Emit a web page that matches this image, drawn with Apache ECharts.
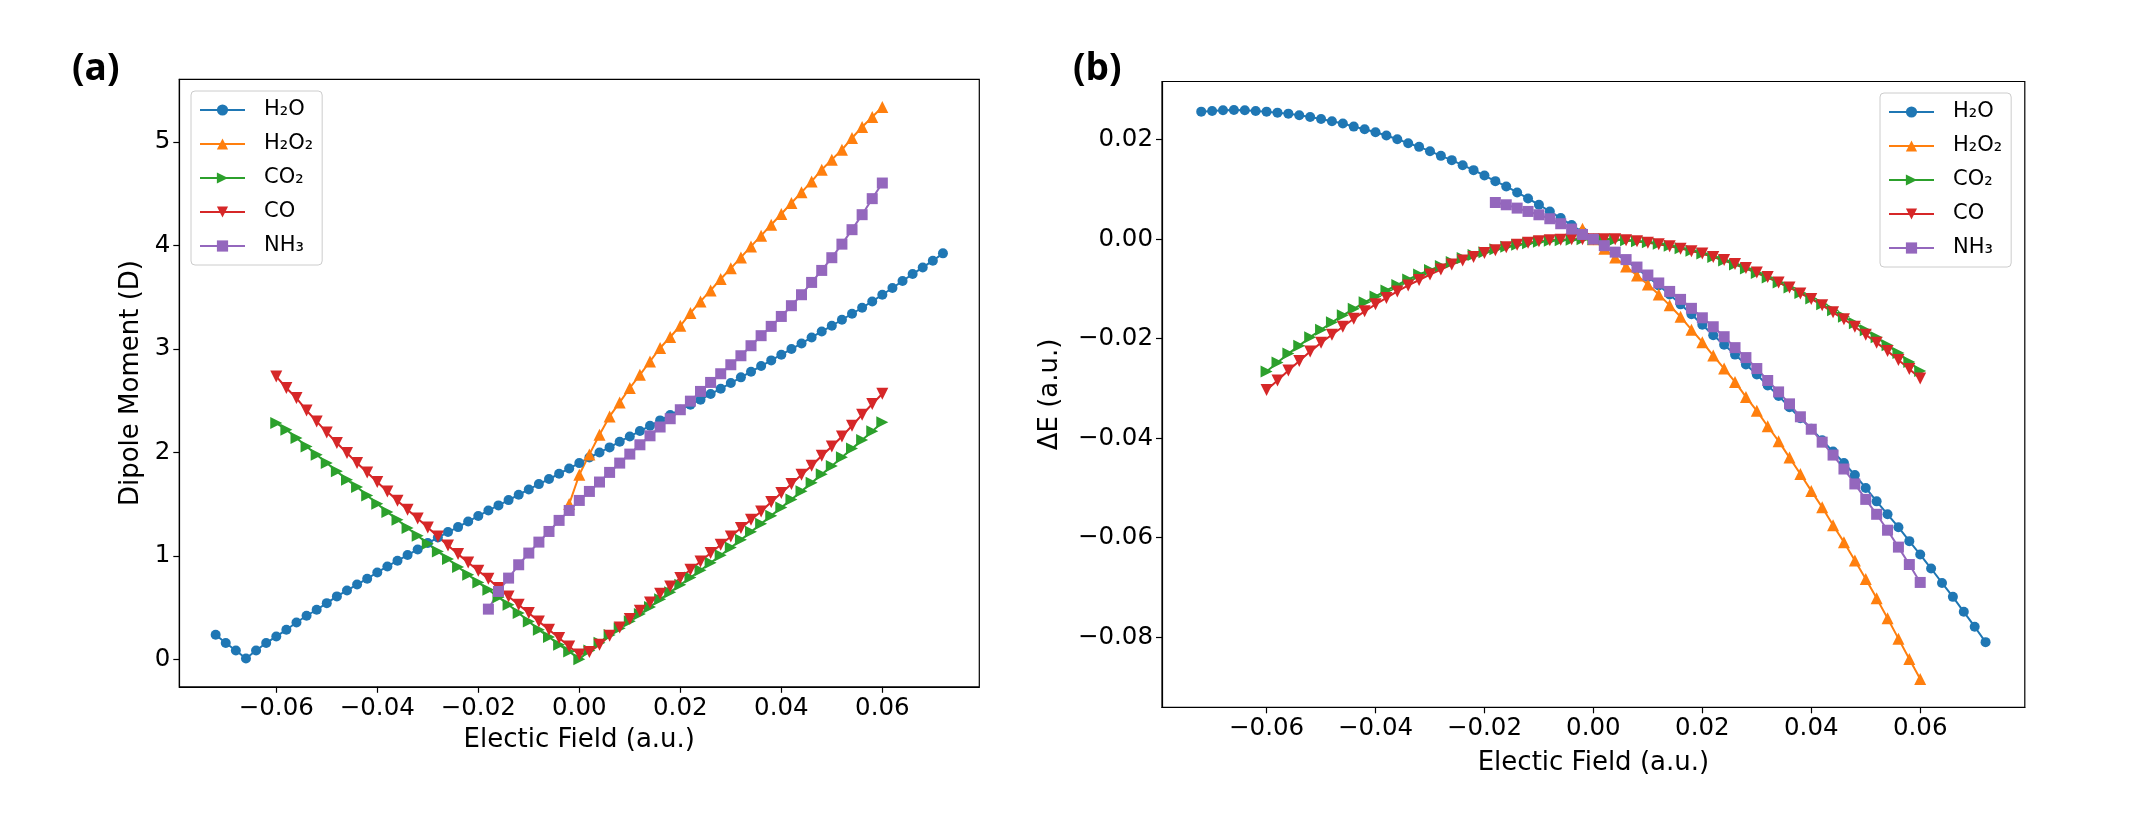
<!doctype html>
<html lang="en">
<head>
<meta charset="UTF-8">
<title>Dipole moment and energy vs electric field</title>
<script src="https://cdn.jsdelivr.net/npm/echarts@6/dist/echarts.min.js"></script>
<style>
    html, body { margin: 0; padding: 0; background: #fff; }
    #main { width: 2132px; height: 818px; }
</style>
</head>
<body>
<div id="main"></div>
<script>
// electric field grids (a.u.)
var fieldH2O = [-0.072,-0.070,-0.068,-0.066,-0.064,-0.062,-0.060,-0.058,-0.056,-0.054,-0.052,-0.050,-0.048,-0.046,-0.044,-0.042,-0.040,-0.038,-0.036,-0.034,-0.032,-0.030,-0.028,-0.026,-0.024,-0.022,-0.020,-0.018,-0.016,-0.014,-0.012,-0.010,-0.008,-0.006,-0.004,-0.002,0.000,0.002,0.004,0.006,0.008,0.010,0.012,0.014,0.016,0.018,0.020,0.022,0.024,0.026,0.028,0.030,0.032,0.034,0.036,0.038,0.040,0.042,0.044,0.046,0.048,0.050,0.052,0.054,0.056,0.058,0.060,0.062,0.064,0.066,0.068,0.070,0.072];
var fieldCO = [-0.060,-0.058,-0.056,-0.054,-0.052,-0.050,-0.048,-0.046,-0.044,-0.042,-0.040,-0.038,-0.036,-0.034,-0.032,-0.030,-0.028,-0.026,-0.024,-0.022,-0.020,-0.018,-0.016,-0.014,-0.012,-0.010,-0.008,-0.006,-0.004,-0.002,0.000,0.002,0.004,0.006,0.008,0.010,0.012,0.014,0.016,0.018,0.020,0.022,0.024,0.026,0.028,0.030,0.032,0.034,0.036,0.038,0.040,0.042,0.044,0.046,0.048,0.050,0.052,0.054,0.056,0.058,0.060];
var fieldNH3 = [-0.018,-0.016,-0.014,-0.012,-0.010,-0.008,-0.006,-0.004,-0.002,0.000,0.002,0.004,0.006,0.008,0.010,0.012,0.014,0.016,0.018,0.020,0.022,0.024,0.026,0.028,0.030,0.032,0.034,0.036,0.038,0.040,0.042,0.044,0.046,0.048,0.050,0.052,0.054,0.056,0.058,0.060];
var fieldH2O2 = [-0.002,0.000,0.002,0.004,0.006,0.008,0.010,0.012,0.014,0.016,0.018,0.020,0.022,0.024,0.026,0.028,0.030,0.032,0.034,0.036,0.038,0.040,0.042,0.044,0.046,0.048,0.050,0.052,0.054,0.056,0.058,0.060];

// (a) dipole moment (D)
var dipoleH2O = [0.236,0.156,0.084,0.007,0.084,0.156,0.220,0.284,0.355,0.420,0.478,0.542,0.607,0.665,0.722,0.778,0.839,0.897,0.952,1.007,1.061,1.123,1.176,1.229,1.277,1.332,1.384,1.438,1.487,1.538,1.590,1.641,1.693,1.742,1.793,1.844,1.896,1.950,1.999,2.048,2.103,2.154,2.206,2.257,2.309,2.361,2.412,2.460,2.509,2.564,2.615,2.670,2.725,2.780,2.834,2.889,2.944,2.999,3.053,3.111,3.169,3.224,3.282,3.340,3.398,3.459,3.524,3.589,3.657,3.724,3.788,3.853,3.924];
var dipoleH2O2 = [1.500,1.783,1.980,2.170,2.347,2.483,2.622,2.750,2.879,3.009,3.115,3.224,3.347,3.459,3.566,3.676,3.779,3.885,3.991,4.095,4.201,4.305,4.411,4.514,4.620,4.733,4.830,4.926,5.039,5.146,5.243,5.339];
var dipoleCO2 = [2.283,2.219,2.138,2.057,1.977,1.896,1.816,1.735,1.664,1.583,1.503,1.422,1.348,1.268,1.193,1.116,1.042,0.968,0.892,0.816,0.742,0.671,0.600,0.526,0.446,0.365,0.284,0.214,0.139,0.075,0.000,0.085,0.160,0.235,0.300,0.368,0.436,0.505,0.580,0.648,0.720,0.790,0.860,0.932,1.005,1.080,1.155,1.232,1.310,1.388,1.466,1.545,1.625,1.705,1.787,1.869,1.952,2.036,2.120,2.205,2.290];
var dipoleCO = [2.734,2.622,2.525,2.405,2.299,2.193,2.090,1.993,1.896,1.806,1.713,1.622,1.532,1.445,1.361,1.274,1.187,1.100,1.016,0.935,0.855,0.778,0.688,0.607,0.526,0.446,0.365,0.284,0.204,0.123,0.045,0.070,0.139,0.226,0.307,0.388,0.468,0.548,0.632,0.703,0.784,0.865,0.945,1.026,1.106,1.187,1.268,1.348,1.429,1.519,1.606,1.693,1.783,1.870,1.967,2.057,2.154,2.257,2.364,2.467,2.567];
var dipoleNH3 = [0.484,0.655,0.784,0.913,1.026,1.132,1.235,1.342,1.438,1.535,1.622,1.713,1.806,1.896,1.983,2.073,2.160,2.245,2.325,2.412,2.495,2.589,2.676,2.760,2.847,2.934,3.031,3.128,3.218,3.314,3.418,3.524,3.643,3.759,3.882,4.013,4.153,4.298,4.453,4.604];

// (b) energy change (a.u.)
var energyH2O = [0.02564,0.02578,0.02591,0.02598,0.02591,0.02578,0.02564,0.02544,0.02524,0.02491,0.02457,0.02417,0.02371,0.02324,0.02263,0.02210,0.02150,0.02083,0.02010,0.01930,0.01856,0.01769,0.01675,0.01589,0.01488,0.01388,0.01280,0.01167,0.01060,0.00939,0.00819,0.00692,0.00558,0.00425,0.00285,0.00144,0.0,-0.0013,-0.0028,-0.0043,-0.0059,-0.0076,-0.0093,-0.0111,-0.0131,-0.0151,-0.0172,-0.0193,-0.0212,-0.0232,-0.0252,-0.0272,-0.0294,-0.0315,-0.0338,-0.0360,-0.0381,-0.0404,-0.0427,-0.0450,-0.0474,-0.0500,-0.0527,-0.0553,-0.0579,-0.0607,-0.0634,-0.0662,-0.0691,-0.0719,-0.0749,-0.0779,-0.0810];
var energyH2O2 = [0.0021,0.0000,-0.0019,-0.0037,-0.0055,-0.0073,-0.0091,-0.0111,-0.0133,-0.0156,-0.0182,-0.0207,-0.0234,-0.0260,-0.0287,-0.0317,-0.0345,-0.0376,-0.0406,-0.0439,-0.0472,-0.0506,-0.0539,-0.0575,-0.0609,-0.0646,-0.0683,-0.0722,-0.0762,-0.0803,-0.0844,-0.0884];
var energyCO2 = [-0.0266,-0.0248,-0.0230,-0.0214,-0.0197,-0.0182,-0.0167,-0.0153,-0.0140,-0.0127,-0.0115,-0.0103,-0.0092,-0.0081,-0.0071,-0.0062,-0.0054,-0.0046,-0.0038,-0.0032,-0.0026,-0.0020,-0.0015,-0.0011,-0.0008,-0.0005,-0.0003,-0.0002,-0.0001,0.0000,0.0000,0.0000,-0.0001,-0.0002,-0.0004,-0.0006,-0.0009,-0.0013,-0.0018,-0.0023,-0.0029,-0.0036,-0.0043,-0.0051,-0.0059,-0.0068,-0.0077,-0.0087,-0.0097,-0.0108,-0.0119,-0.0131,-0.0143,-0.0156,-0.0169,-0.0183,-0.0197,-0.0213,-0.0229,-0.0247,-0.0265];
var energyCO = [-0.0303,-0.0284,-0.0264,-0.0245,-0.0226,-0.0208,-0.0192,-0.0176,-0.0160,-0.0145,-0.0131,-0.0118,-0.0105,-0.0093,-0.0082,-0.0071,-0.0061,-0.0051,-0.0043,-0.0036,-0.0028,-0.0022,-0.0016,-0.0011,-0.0007,-0.0004,-0.0002,-0.0001,0.0000,0.0000,0.0000,0.0000,0.0000,-0.0002,-0.0004,-0.0007,-0.0010,-0.0014,-0.0019,-0.0024,-0.0029,-0.0036,-0.0042,-0.0050,-0.0058,-0.0067,-0.0076,-0.0087,-0.0097,-0.0109,-0.0120,-0.0133,-0.0147,-0.0161,-0.0176,-0.0192,-0.0208,-0.0225,-0.0243,-0.0261,-0.0280];
var energyNH3 = [0.00738,0.00692,0.00625,0.00558,0.00491,0.00411,0.00311,0.00204,0.00095,0.0,-0.0013,-0.0026,-0.0041,-0.0056,-0.0072,-0.0088,-0.0105,-0.0121,-0.0139,-0.0158,-0.0176,-0.0196,-0.0218,-0.0238,-0.0260,-0.0284,-0.0307,-0.0331,-0.0357,-0.0382,-0.0408,-0.0434,-0.0462,-0.0492,-0.0523,-0.0553,-0.0585,-0.0619,-0.0654,-0.0690];

// tick labels
var fieldTicks = [-0.06,-0.04,-0.02,0.00,0.02,0.04,0.06];
var dipoleTicks = [0,1,2,3,4,5];
var energyTicks = [-0.08,-0.06,-0.04,-0.02,0.00,0.02];

var names = ['H\u2082O', 'H\u2082O\u2082', 'CO\u2082', 'CO', 'NH\u2083'];
var colors = ['#1f77b4', '#ff7f0e', '#2ca02c', '#d62728', '#9467bd'];

var FONT = 'DejaVu Sans';

function pairs(xs, ys) {
    return xs.map(function (x, i) { return [x, ys[i]]; });
}

function signed(digits) {
    return function (v) {
        var s = Math.abs(v).toFixed(digits);
        return v < -1e-9 ? '\u2212' + s : s;
    };
}

function makeLine(k, symbol, size, rotate, xs, ys, idx) {
    return {
        type: 'line',
        name: names[k],
        xAxisIndex: idx,
        yAxisIndex: idx,
        data: pairs(xs, ys),
        symbol: symbol,
        symbolSize: size,
        symbolRotate: rotate,
        showSymbol: true,
        showAllSymbol: true,
        lineStyle: { color: colors[k], width: 2 },
        itemStyle: { color: colors[k] },
        emphasis: { disabled: true },
        animation: false
    };
}

function xAxisOf(idx, gap) {
    return {
        gridIndex: idx,
        type: 'value',
        min: -0.0792,
        max: 0.0792,
        name: 'Electic Field (a.u.)',
        nameLocation: 'middle',
        nameGap: gap,
        nameTextStyle: { fontFamily: FONT, fontSize: 26, color: '#000' },
        axisLine: { show: true, onZero: false, lineStyle: { color: '#000', width: 1.2 } },
        axisTick: { show: true, length: 6, customValues: fieldTicks, lineStyle: { color: '#000', width: 1.2 } },
        axisLabel: { customValues: fieldTicks, formatter: signed(2), fontFamily: FONT, fontSize: 24.5, color: '#000', margin: 9 },
        splitLine: { show: false }
    };
}

function yAxisOf(idx, min, max, ticks, digits, name, gap) {
    return {
        gridIndex: idx,
        type: 'value',
        min: min,
        max: max,
        name: name,
        nameLocation: 'middle',
        nameGap: gap,
        nameTextStyle: { fontFamily: FONT, fontSize: 26, color: '#000' },
        axisLine: { show: true, onZero: false, lineStyle: { color: '#000', width: 1.2 } },
        axisTick: { show: true, length: 6, customValues: ticks, lineStyle: { color: '#000', width: 1.2 } },
        axisLabel: { customValues: ticks, formatter: signed(digits), fontFamily: FONT, fontSize: 24.5, color: '#000', margin: 9 },
        splitLine: { show: false }
    };
}

function legendAt(left, top) {
    return {
        left: left,
        top: top,
        orient: 'vertical',
        data: names,
        itemWidth: 45,
        itemHeight: 14,
        itemGap: 12,
        padding: [8, 9, 8, 8],
        backgroundColor: 'rgba(255,255,255,0.8)',
        borderColor: '#cccccc',
        borderWidth: 1,
        borderRadius: 4,
        selectedMode: false,
        textStyle: { fontFamily: FONT, fontSize: 21, color: '#000', lineHeight: 22, padding: [0, 0, 0, 14] }
    };
}

var chart = echarts.init(document.getElementById('main'), null, { renderer: 'canvas' });

var labelStyle = { fontFamily: 'Open Sans', fontWeight: 'bold', fontSize: 37, color: '#000' };

var option = {
    animation: false,
    backgroundColor: '#fff',
    title: [
        { text: '(a)', left: 72, top: 51, padding: 0, textStyle: labelStyle },
        { text: '(b)', left: 1073, top: 51, padding: 0, textStyle: labelStyle }
    ],
    grid: [
        { left: 179.3, top: 79.3, width: 800, height: 607.5, show: true, borderColor: '#000', borderWidth: 1.2, backgroundColor: 'transparent' },
        { left: 1162, top: 81.5, width: 862.8, height: 625.8, show: true, borderColor: '#000', borderWidth: 1.2, backgroundColor: 'transparent' }
    ],
    xAxis: [xAxisOf(0, 40), xAxisOf(1, 43)],
    yAxis: [
        yAxisOf(0, -0.267, 5.607, dipoleTicks, 0, 'Dipole Moment (D)', 35),
        yAxisOf(1, -0.0941, 0.0317, energyTicks, 2, '\u0394E (a.u.)', 99)
    ],
    legend: [legendAt(191, 91), legendAt(1880, 93)],
    series: [
        makeLine(0, 'circle', 10, 0, fieldH2O, dipoleH2O, 0),
        makeLine(1, 'triangle', 12, 0, fieldH2O2, dipoleH2O2, 0),
        makeLine(2, 'triangle', 12, -90, fieldCO, dipoleCO2, 0),
        makeLine(3, 'triangle', 12, 180, fieldCO, dipoleCO, 0),
        makeLine(4, 'rect', 11, 0, fieldNH3, dipoleNH3, 0),
        makeLine(0, 'circle', 10, 0, fieldH2O, energyH2O, 1),
        makeLine(1, 'triangle', 12, 0, fieldH2O2, energyH2O2, 1),
        makeLine(2, 'triangle', 12, -90, fieldCO, energyCO2, 1),
        makeLine(3, 'triangle', 12, 180, fieldCO, energyCO, 1),
        makeLine(4, 'rect', 11, 0, fieldNH3, energyNH3, 1)
    ]
};

chart.setOption(option);
</script>
</body>
</html>
